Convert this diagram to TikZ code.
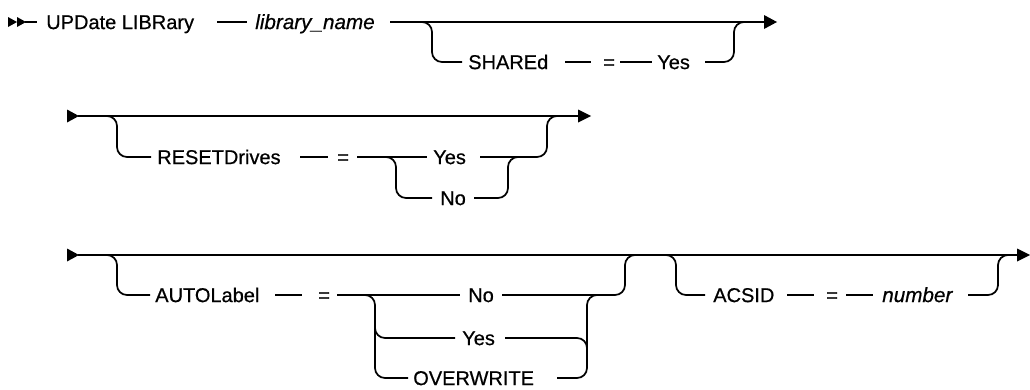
\documentclass[tikz,border=0pt]{standalone}
\usepackage{fontspec}
\setmainfont{Liberation Sans}
\newfontfamily\railfont{Liberation Sans}[FakeBold=0.6]
\newfontfamily\railifont{Liberation Sans Italic}[FakeBold=0.6]
\begin{document}
\begin{tikzpicture}[x=0.75pt,y=-0.75pt,
  rail/.style={line width=1.3pt, rounded corners=7.5pt},
  tok/.style={anchor=west, inner sep=0pt, font=\railfont\fontsize{15}{18}\selectfont, text height=10.6pt, text depth=0pt},
  itok/.style={tok, font=\railifont\fontsize{15.5}{18}\selectfont}]
\useasboundingbox (0,0) rectangle (1030,389);

% ---------- Row 1 ----------
\fill (8,22) ++(0,-5) -- ++(9,5) -- ++(-9,5) -- cycle;
\fill (17,22) ++(0,-5) -- ++(9,5) -- ++(-9,5) -- cycle;
\draw[rail] (25,22) -- (37,22);
\node[tok] (upd) at (46,22) {UPDate LIBRary};
\draw[rail] (217,22) -- (247,22);
\node[itok] (libname) at (255,22) {library\_name};
\draw[rail] (390,22) -- (765,22);
\fill (764,22) ++(0,-7) -- ++(13,7) -- ++(-13,7) -- cycle;
% SHAREd branch
\draw[rail] (410,22) -- (432,22) -- (432,62) -- (462,62);
\node[tok] (shared) at (468,62) {SHAREd};
\draw[rail] (565,62) -- (591,62);
\node[tok] (eq1) at (603,62) {=};
\draw[rail] (620,62) -- (652,62);
\node[tok] (yes1) at (657,62) {Yes};
\draw[rail] (705,62) -- (734,62) -- (734,22) -- (755,22);

% ---------- Row 2 ----------
\fill (67,116) ++(0,-6.5) -- ++(12,6.5) -- ++(-12,6.5) -- cycle;
\draw[rail] (78,116) -- (579,116);
\fill (578,116) ++(0,-6.5) -- ++(13,6.5) -- ++(-13,6.5) -- cycle;
\draw[rail] (100,116) -- (117,116) -- (117,157) -- (151,157);
\node[tok] (reset) at (157,157) {RESETDrives};
\draw[rail] (300,157) -- (328,157);
\node[tok] (eq2) at (337,157) {=};
\draw[rail] (357,157) -- (427,157);
\draw[rail] (380,157) -- (396,157) -- (396,198) -- (432,198);
\node[tok] (yes2) at (433,157) {Yes};
\node[tok] (no2) at (440,198) {No};
\draw[rail] (480,157) -- (547,157) -- (547,116) -- (565,116);
\draw[rail] (474,198) -- (508,198) -- (508,157) -- (522,157);

% ---------- Row 3 ----------
\fill (67,255) ++(0,-6.5) -- ++(12,6.5) -- ++(-12,6.5) -- cycle;
\draw[rail] (78,255) -- (1018,255);
\fill (1017,255) ++(0,-6.5) -- ++(13,6.5) -- ++(-13,6.5) -- cycle;
% AUTOLabel branch
\draw[rail] (100,255) -- (117,255) -- (117,295) -- (150,295);
\node[tok] (auto) at (155,295) {AUTOLabel};
\draw[rail] (275,295) -- (302,295);
\node[tok] (eq3) at (318,295) {=};
\draw[rail] (337,295) -- (460,295);
\draw[rail] (360,295) -- (375,295) -- (375,378) -- (408,378);
\draw[rail] (375,320) -- (375,338) -- (455,338);
\node[tok] (no3) at (468,295) {No};
\node[tok] (yes3) at (462,338) {Yes};
\node[tok] (ovw) at (413,378) {OVERWRITE};
\draw[rail] (502,295) -- (625,295) -- (625,255) -- (645,255);
\draw[rail] (557,378) -- (587,378) -- (587,295) -- (602,295);
\draw[rail] (505,338) -- (587,338) -- (587,355);
% ACSID branch
\draw[rail] (655,255) -- (676,255) -- (676,295) -- (705,295);
\node[tok] (acsid) at (713,295) {ACSID};
\draw[rail] (787,295) -- (814,295);
\node[tok] (eq4) at (826,295) {=};
\draw[rail] (846,295) -- (873,295);
\node[itok] (num) at (882,295) {number};
\draw[rail] (968,295) -- (998,295) -- (998,255) -- (1012,255);
\end{tikzpicture}
\end{document}
